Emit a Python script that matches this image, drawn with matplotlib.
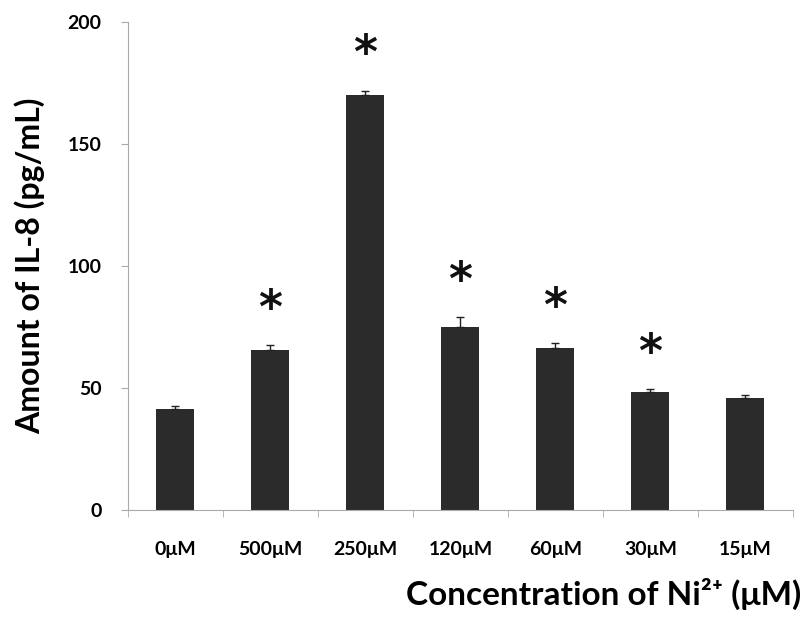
import numpy as np
import matplotlib
matplotlib.use('Agg')
import matplotlib.pyplot as plt

plt.rcParams['font.family'] = ['Lato', 'DejaVu Sans']

# data
labels = ['0μM', '500μM', '250μM', '120μM', '60μM', '30μM', '15μM']
values = [41.5, 65.5, 170.0, 75.0, 66.5, 48.5, 45.8]
errors = [1.0, 2.0, 2.0, 4.0, 1.8, 1.0, 1.5]
signif = [False, True, True, True, True, True, False]

fig = plt.figure(figsize=(8.05, 6.19), dpi=100)
ax = fig.add_axes([0.159, 0.176, 0.826, 0.788])

x = np.arange(len(labels))
err_lo = np.zeros(len(errors))
ax.bar(x, values, width=0.4, color='#2b2b2b', zorder=2)
ax.errorbar(x, values, yerr=[err_lo, errors], fmt='none', ecolor='#222222',
            elinewidth=1, capsize=3, capthick=1, zorder=3)

for xi, v, e, s in zip(x, values, errors, signif):
    if s:
        ax.text(xi, v + e + 5, '*', ha='center', va='bottom', fontsize=33,
                fontweight='bold', family='DejaVu Sans', color='#111111')

ax.set_xlim(-0.5, len(labels) - 0.5)
ax.set_ylim(0, 200)
ax.set_yticks([0, 50, 100, 150, 200])

ax.set_xticks(x)
ax.set_xticklabels(labels, fontsize=14, fontweight='bold')
ax.set_xticks(np.arange(len(labels) + 1) - 0.5, minor=True)
ax.tick_params(axis='x', which='major', length=0, pad=22)
ax.tick_params(axis='x', which='minor', length=5, color='#aaaaaa', direction='out')
ax.tick_params(axis='y', length=5, color='#aaaaaa', labelsize=14, pad=14)
for t in ax.get_yticklabels():
    t.set_fontweight('bold')

for sp in ['top', 'right']:
    ax.spines[sp].set_visible(False)
for sp in ['left', 'bottom']:
    ax.spines[sp].set_color('#aaaaaa')
    ax.spines[sp].set_linewidth(0.8)

ax.set_ylabel('Amount of IL-8 (pg/mL)', fontsize=23, fontweight='bold', labelpad=16)
fig.text(0.995, 0.015, 'Concentration of Ni²⁺ (μM)', ha='right', va='bottom',
         fontsize=24, fontweight='bold')

fig.savefig('out.png', dpi=100)
